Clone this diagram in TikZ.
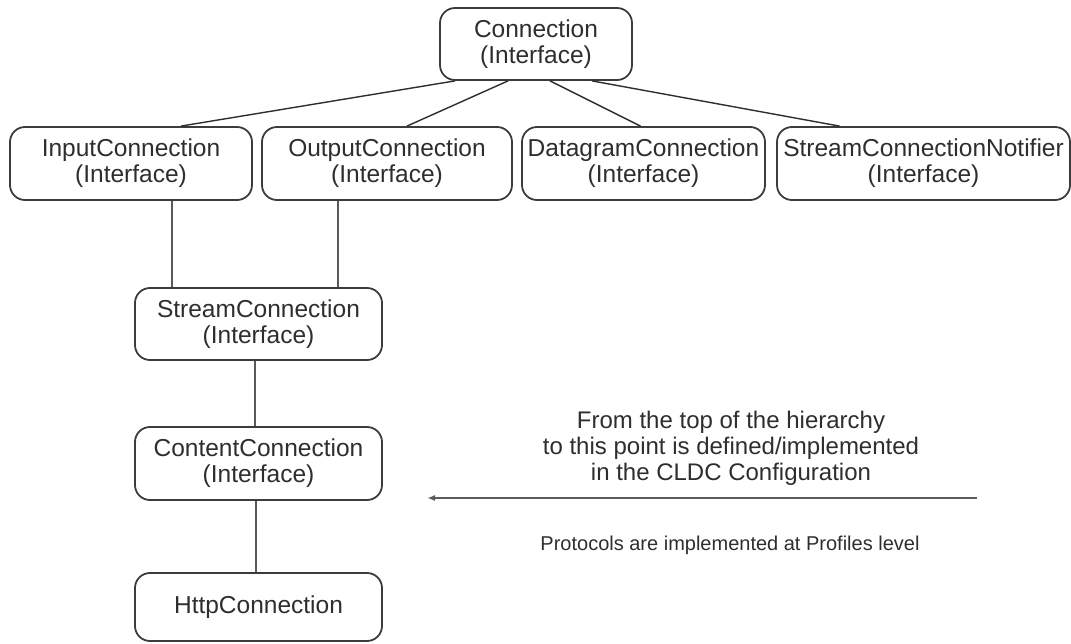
\documentclass[tikz,border=0pt]{standalone}
\usepackage{fontspec}
\setmainfont{Liberation Sans}
\usetikzlibrary{arrows.meta}
\definecolor{ink}{HTML}{2E2E2E}
\definecolor{edge}{HTML}{3C3C3C}
\definecolor{link}{HTML}{5A5A5A}
\begin{document}
\begin{tikzpicture}[x=1pt,y=-1pt,
  iface/.style={draw=edge, line width=1.8pt, rounded corners=15pt,
    align=center, text=ink, inner sep=0pt,
    font=\fontsize{24.5}{26}\selectfont},
  tie/.style={draw=ink, line width=1.4pt},
  drop/.style={draw=link, line width=1.8pt},
  note/.style={align=center, text=ink, font=\fontsize{24}{26}\selectfont}]
\useasboundingbox (0,0) rectangle (1071,644);
% root interface
\node[iface, minimum width=192pt, minimum height=72pt] (conn) at (536,44) {Connection\\(Interface)};
% second level
\node[iface, minimum width=242pt, minimum height=73pt] (inp) at (131,163.5) {InputConnection\\(Interface)};
\node[iface, minimum width=250pt, minimum height=73pt] (out) at (387,163.5) {OutputConnection\\(Interface)};
\node[iface, minimum width=243pt, minimum height=73pt] (dgram) at (643.5,163.5) {DatagramConnection\\(Interface)};
\node[iface, minimum width=293pt, minimum height=73pt] (notif) at (923.5,163.5) {StreamConnectionNotifier\\(Interface)};
% stream branch
\node[iface, minimum width=247pt, minimum height=72pt] (stream) at (258.5,324) {StreamConnection\\(Interface)};
\node[iface, minimum width=247pt, minimum height=73pt] (content) at (258.5,463.5) {ContentConnection\\(Interface)};
\node[iface, minimum width=247pt, minimum height=68pt] (http) at (258.5,607) {HttpConnection};
% links from the root
\draw[tie] ([xshift=-81pt]conn.south) -- ([xshift=50pt]inp.north);
\draw[tie] ([xshift=-28pt]conn.south) -- ([xshift=20pt]out.north);
\draw[tie] ([xshift=14pt]conn.south) -- ([xshift=-3pt]dgram.north);
\draw[tie] ([xshift=56pt]conn.south) -- ([xshift=-84pt]notif.north);
% vertical links
\draw[drop] ([xshift=41pt]inp.south) -- ([xshift=-86.5pt]stream.north);
\draw[drop] ([xshift=-49pt]out.south) -- ([xshift=79.5pt]stream.north);
\draw[drop] ([xshift=-3.5pt]stream.south) -- ([xshift=-3.5pt]content.north);
\draw[drop] ([xshift=-2.5pt]content.south) -- ([xshift=-2.5pt]http.north);
% annotation
\node[note] (scope) at (731,448) {From the top of the hierarchy\\to this point is defined/implemented\\in the CLDC Configuration};
\coordinate (tail) at (977,498);
\coordinate (head) at (427,498);
\draw[drop, -{Latex[length=8pt,width=6pt]}] (tail) -- (head);
\node[note, font=\fontsize{20}{24}\selectfont] (prof) at (730,545) {Protocols are implemented at Profiles level};
\end{tikzpicture}
\end{document}
